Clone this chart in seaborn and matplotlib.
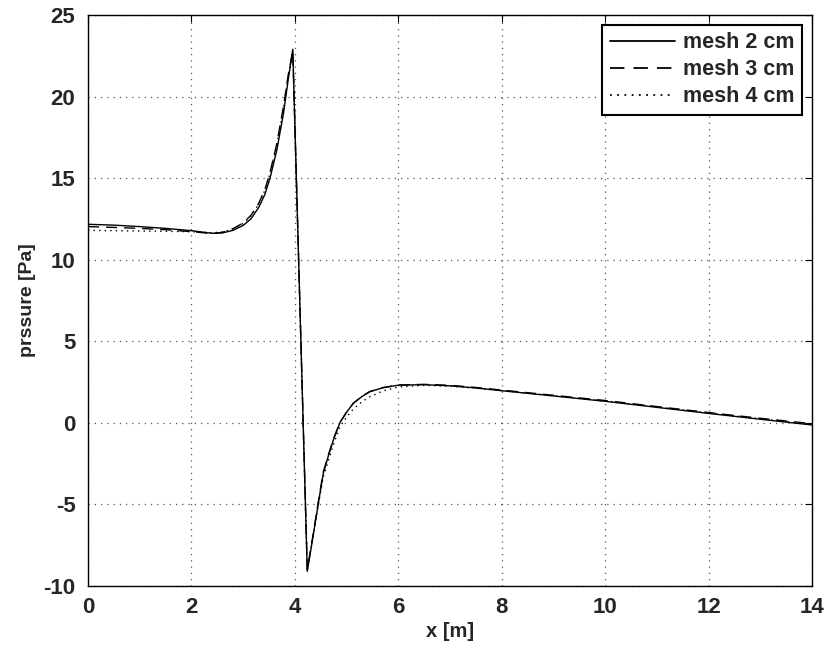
import numpy as np
import pandas as pd
import matplotlib
matplotlib.use("Agg")
import matplotlib.pyplot as plt
import seaborn as sns

# ---- data ----
x = [0.0, 0.5, 1.0, 1.5, 2.0, 2.4, 2.6, 2.8, 3.0, 3.15, 3.3, 3.42, 3.52, 3.65, 3.78, 3.87, 3.96,
     4.24, 4.35, 4.45, 4.55, 4.65, 4.75, 4.87, 5.0, 5.13, 5.3, 5.45, 5.7, 6.0,
     6.5, 7.0, 7.5, 8.0, 9.0, 10.0, 11.0, 12.0, 13.0, 14.0]

mesh2 = [12.17, 12.12, 12.03, 11.92, 11.78, 11.62, 11.64, 11.8, 12.1, 12.5, 13.2, 14.0, 15.0, 16.7, 18.97, 21.0, 22.9,
         -9.1, -7.0, -5.0, -3.1, -2.0, -1.0, 0.0, 0.65, 1.2, 1.62, 1.91, 2.15, 2.31,
         2.34, 2.27, 2.14, 1.97, 1.65, 1.32, 0.95, 0.58, 0.22, -0.13]

mesh3 = [12.03, 11.98, 11.92, 11.84, 11.72, 11.6, 11.68, 11.9, 12.25, 12.72, 13.45, 14.3, 15.35, 17.1, 19.4, 21.3, 22.8,
         -9.0, -6.9, -4.9, -3.0, -1.95, -0.95, 0.02, 0.66, 1.2, 1.63, 1.92, 2.16, 2.32,
         2.36, 2.3, 2.17, 2.01, 1.69, 1.37, 1.0, 0.63, 0.28, -0.05]

mesh4 = [11.8, 11.78, 11.76, 11.74, 11.72, 11.65, 11.7, 11.88, 12.22, 12.68, 13.4, 14.25, 15.3, 17.0, 19.3, 21.2, 22.7,
         -9.0, -7.0, -5.1, -3.3, -2.3, -1.3, -0.25, 0.35, 0.85, 1.3, 1.6, 1.95, 2.2,
         2.3, 2.25, 2.13, 1.98, 1.66, 1.34, 0.98, 0.61, 0.25, -0.1]

labels = ["mesh 2 cm", "mesh 3 cm", "mesh 4 cm"]
styles = ["-", (0, (8, 5)), (0, (1, 3))]

xticks = [0, 2, 4, 6, 8, 10, 12, 14]
yticks = [-10, -5, 0, 5, 10, 15, 20, 25]

df = pd.DataFrame({
    "x": x * 3,
    "p": mesh2 + mesh3 + mesh4,
    "mesh": [labels[0]] * len(x) + [labels[1]] * len(x) + [labels[2]] * len(x),
})

sns.set_style("white")
plt.rcParams["font.family"] = ["Liberation Sans", "DejaVu Sans"]
plt.rcParams["font.weight"] = "bold"

fig = plt.figure(figsize=(8.28, 6.52), dpi=100)
ax = fig.add_axes([88 / 828, 1 - 586 / 652, (812 - 88) / 828, (586 - 15) / 652])

for lab, ls in zip(labels, styles):
    sub = df[df["mesh"] == lab]
    sns.lineplot(data=sub, x="x", y="p", ax=ax, color="black", linewidth=1.0,
                 linestyle=ls, label=lab, sort=False, estimator=None)

ax.set_xlim(0, 14)
ax.set_ylim(-10, 25)
ax.set_xticks(xticks)
ax.set_yticks(yticks)
ax.set_xticklabels([str(t) for t in xticks], fontsize=16, fontweight="bold")
ax.set_yticklabels([str(t) for t in yticks], fontsize=16, fontweight="bold")
ax.set_xlabel("x [m]", fontsize=14.5, fontweight="bold", labelpad=3)
ax.set_ylabel("prssure [Pa]", fontsize=14, fontweight="bold", labelpad=5)

ax.grid(True, color="#555555", linestyle=(0, (1, 4)), linewidth=0.9)
ax.tick_params(direction="in", length=5, width=0.8, top=True, right=True,
               color="black")
ax.tick_params(axis="x", pad=8)
ax.tick_params(axis="y", pad=9)
for s in ax.spines.values():
    s.set_visible(True)
    s.set_color("black")
    s.set_linewidth(1.0)

leg = ax.legend(loc="upper right", fontsize=15.5, frameon=True, fancybox=False,
                handlelength=3.05, borderaxespad=0.45, labelspacing=0.28,
                handletextpad=0.37, borderpad=0.35)
leg.get_frame().set_edgecolor("black")
leg.get_frame().set_linewidth(1.5)
leg.get_frame().set_alpha(1)
for t in leg.get_texts():
    t.set_fontweight("bold")
for h in leg.get_lines():
    h.set_linewidth(1.3)

fig.savefig("out.png", dpi=100)
